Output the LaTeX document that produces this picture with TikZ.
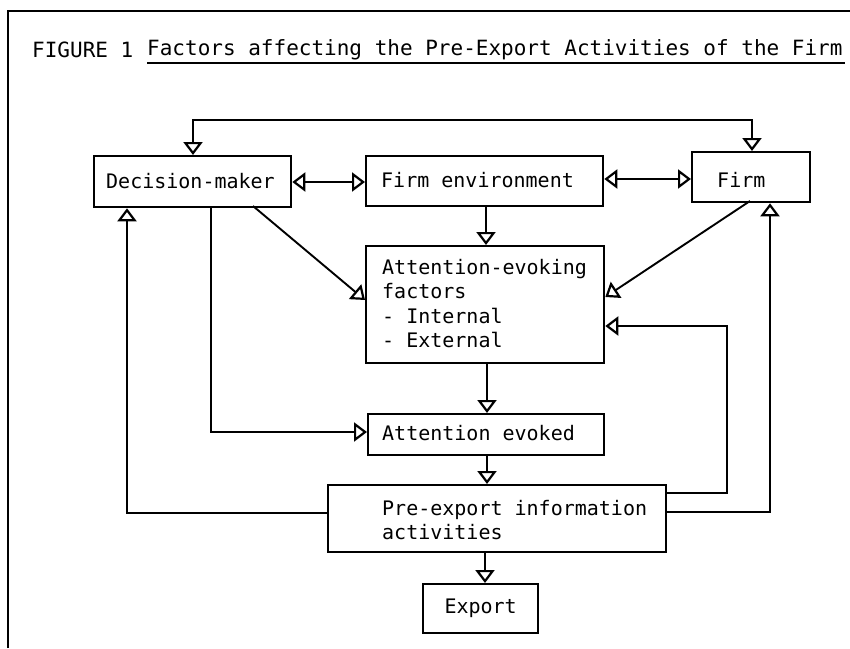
\documentclass[tikz,border=0pt]{standalone}
\usepackage{fontspec}
\newfontfamily\monof{DejaVu Sans Mono}
\usetikzlibrary{arrows.meta}
\newcommand{\monosp}{\spaceskip=0.602em\relax\xspaceskip=0.602em\relax}
\begin{document}
\begin{tikzpicture}[x=1pt,y=-1pt,
  box/.style={draw, line width=2.3pt, anchor=north west, inner sep=0pt},
  txt/.style={inner sep=0pt, align=left, font=\monof\fontsize{20}{24.5}\selectfont},
  conn/.style={line width=1.9pt, -{Triangle[open,length=13pt,width=19pt,line width=2.2pt]}},
  both/.style={line width=1.9pt, {Triangle[open,length=13pt,width=19pt,line width=2.2pt]}-{Triangle[open,length=13pt,width=19pt,line width=2.2pt]}},
  ttl/.style={font=\monof\fontsize{21}{25}\selectfont, inner sep=0pt, anchor=west}
]
\useasboundingbox (0,0) rectangle (850,648);
% frame
\draw[line width=2.5pt] (8,648) -- (8,11) -- (850,11);
% title
\node[ttl] (fig) at (32,50) {FIGURE 1};
\node[ttl] (title) at (147,50) {Factors affecting the Pre-Export Activities of the Firm};
\draw[line width=1.8pt] (147,63) -- (845,63);
% boxes
\node[box, minimum width=197pt, minimum height=51pt] (dm) at (93,155) {};
\node[box, minimum width=237pt, minimum height=50pt] (fe) at (365,155) {};
\node[box, minimum width=118pt, minimum height=50pt] (firm) at (691,151) {};
\node[box, minimum width=238pt, minimum height=117pt] (aef) at (365,245) {};
\node[box, minimum width=236pt, minimum height=41pt] (ae) at (367,413) {};
\node[box, minimum width=338pt, minimum height=67pt] (pe) at (327,484) {};
\node[box, minimum width=115pt, minimum height=49pt] (ex) at (422,583) {};
% texts
\node[txt, anchor=west] (dmt) at (106,181) {Decision-maker};
\node[txt, anchor=west] (fet) at (381,180) {\monosp Firm environment};
\node[txt, anchor=west] (firmt) at (717,180) {Firm};
\node[txt, anchor=north west] (aeft) at (382,259) {\monosp Attention-evoking\\factors\\- Internal\\- External};
\node[txt, anchor=west] (aet) at (382,433) {\monosp Attention evoked};
\node[txt, anchor=north west] (pet) at (382,500) {\monosp Pre-export information\\activities};
\node[txt] (ext) at (ex.center) {Export};
% coordinates
\coordinate (tl) at (193,120);
\coordinate (tr) at (752,120);
\coordinate (dmd) at (253,206);
\coordinate (fmd) at (750,201);
\coordinate (dmi) at (211,432);
\coordinate (lo) at (127,513);
\coordinate (ri) at (727,493);
\coordinate (ro) at (770,512);
% connectors
\draw[both] (tl |- dm.north) -- (tl) -- (tr) -- (tr |- firm.north);
\draw[both] (dm.east |- 0,182) -- (fe.west |- 0,182);
\draw[both] (fe.east |- 0,179) -- (firm.west |- 0,179);
\draw[conn] (fe.south -| 486,0) -- (aef.north -| 486,0);
\draw[conn] (dmd) -- (aef.west |- 0,300);
\draw[conn] (fmd) -- (aef.east |- 0,297);
\draw[conn] (dmi |- dm.south) -- (dmi) -- (ae.west |- dmi);
\draw[conn] (aef.south -| 487,0) -- (ae.north -| 487,0);
\draw[conn] (ae.south -| 487,0) -- (pe.north -| 487,0);
\draw[conn] (pe.south -| 485,0) -- (ex.north -| 485,0);
\draw[conn] (pe.west |- lo) -- (lo) -- (lo |- dm.south);
\draw[conn] (pe.east |- ri) -- (ri) -- (ri |- 0,326) -- (aef.east |- 0,326);
\draw[conn] (pe.east |- ro) -- (ro) -- (ro |- firm.south);
\end{tikzpicture}
\end{document}
